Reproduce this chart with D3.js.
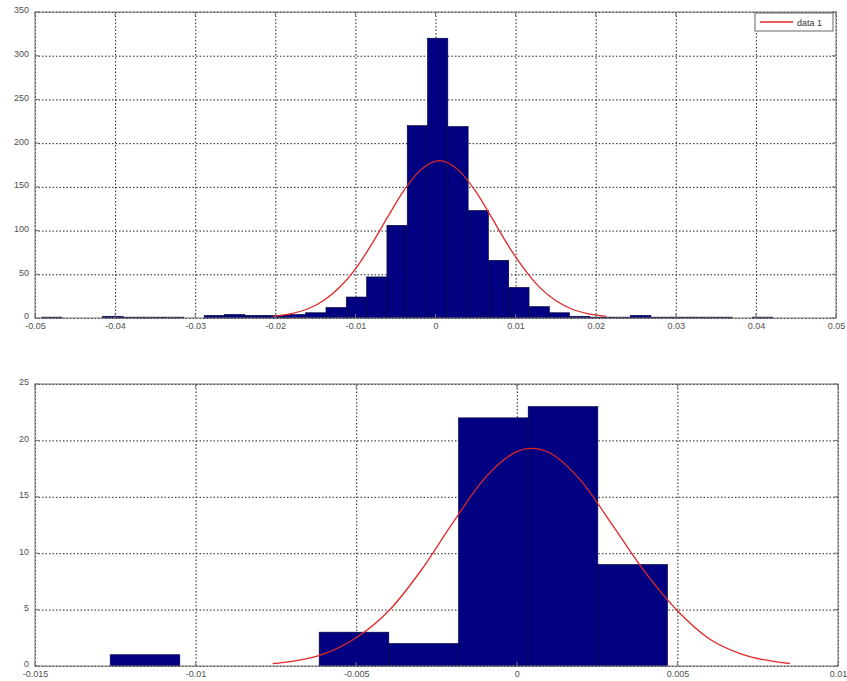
<!DOCTYPE html>
<html>
<head>
<meta charset="utf-8">
<script src="https://cdn.jsdelivr.net/npm/d3@7"></script>
<style>
    body { margin: 0; background: #fff; }
    .tick text { font-family: "Liberation Sans", Arial, sans-serif; font-size: 9px; fill: #505050; }
</style>
</head>
<body>
<script>
// ---- top histogram (bin edges + counts)
const topEdges = [-0.04916, -0.046625, -0.04409, -0.041555, -0.03902, -0.036485, -0.03395, -0.031415,
    -0.02888, -0.026345, -0.02381, -0.021275, -0.01874, -0.016205, -0.01367, -0.011135, -0.0086,
    -0.006065, -0.00353, -0.000995, 0.00154, 0.004075, 0.00661, 0.009145, 0.01168, 0.014215,
    0.01675, 0.019285, 0.02182, 0.024355, 0.02689, 0.029425, 0.03196, 0.034495, 0.03703,
    0.039565, 0.0421];
const topCounts = [1, 0, 0, 2, 1, 1, 1, 0, 3, 4, 3, 3, 4, 6, 12, 24, 47, 106, 220, 320, 219,
    123, 66, 35, 13, 6, 2, 1, 1, 3, 1, 1, 1, 1, 0, 1];
const topCurveX = [-0.0203, -0.018, -0.016, -0.014, -0.012, -0.010, -0.008, -0.006, -0.004,
    -0.002, 0.0005, 0.003, 0.005, 0.007, 0.009, 0.011, 0.013, 0.015, 0.017, 0.019, 0.0213];
const topCurveY = [1.9, 5.0, 10.3, 19.8, 34.9, 56, 84, 115, 145, 168, 180, 168, 145, 115,
    84, 57, 35, 20, 10.3, 5.0, 1.9];
const topXTicks = [-0.05, -0.04, -0.03, -0.02, -0.01, 0, 0.01, 0.02, 0.03, 0.04, 0.05];
const topYTicks = [0, 50, 100, 150, 200, 250, 300, 350];

// ---- bottom histogram
const botEdges = [-0.01266, -0.010491, -0.008322, -0.006153, -0.003984, -0.001815, 0.000354,
    0.002523, 0.004692];
const botCounts = [1, 0, 0, 3, 2, 22, 23, 9];
const botCurveX = [-0.0076, -0.007, -0.006, -0.005, -0.004, -0.003, -0.002, -0.001, 0, 0.00047,
    0.001, 0.002, 0.003, 0.004, 0.005, 0.006, 0.007, 0.0085];
const botCurveY = [0.21, 0.41, 1.07, 2.5, 4.85, 8.4, 12.66, 16.63, 19.0, 19.3, 18.93, 16.41,
    12.4, 8.3, 4.9, 2.4, 1.05, 0.22];
const botXTicks = [-0.015, -0.01, -0.005, 0, 0.005, 0.01];
const botYTicks = [0, 5, 10, 15, 20, 25];

const legendLabel = "data 1";

const svg = d3.select("body").append("svg")
    .attr("width", 847)
    .attr("height", 681);

function fmt(d) {
    return String(+d.toFixed(4));
}

function drawPanel({ box, xDomain, yDomain, xTicks, yTicks, edges, counts, curveX, curveY, legend }) {
    const x = d3.scaleLinear().domain(xDomain).range([box.left, box.right]);
    const y = d3.scaleLinear().domain(yDomain).range([box.bottom, box.top]);
    const w = box.right - box.left, h = box.bottom - box.top;
    const g = svg.append("g");

    // grid
    g.append("g")
        .attr("transform", "translate(0," + box.bottom + ")")
        .call(d3.axisBottom(x).tickValues(xTicks).tickSize(-h).tickFormat(""))
        .call(s => s.select(".domain").remove())
        .call(s => s.selectAll("line").attr("stroke", "#222").attr("stroke-dasharray", "1.5,2"));
    g.append("g")
        .attr("transform", "translate(" + box.left + ",0)")
        .call(d3.axisLeft(y).tickValues(yTicks).tickSize(-w).tickFormat(""))
        .call(s => s.select(".domain").remove())
        .call(s => s.selectAll("line").attr("stroke", "#222").attr("stroke-dasharray", "1.5,2"));

    // bars
    const bins = counts.map((c, i) => ({ x0: edges[i], x1: edges[i + 1], n: c }));
    g.selectAll(".bar")
        .data(bins)
        .enter().append("rect")
        .attr("class", "bar")
        .attr("x", d => x(d.x0))
        .attr("y", d => y(d.n))
        .attr("width", d => x(d.x1) - x(d.x0))
        .attr("height", d => y(0) - y(d.n))
        .style("fill", "#000080")
        .style("stroke", "#000033")
        .style("stroke-width", "0.6px");

    // fitted curve
    const pts = curveX.map((v, i) => [v, curveY[i]]);
    g.append("path")
        .datum(pts)
        .attr("d", d3.line().x(d => x(d[0])).y(d => y(d[1])).curve(d3.curveMonotoneX))
        .style("fill", "none")
        .style("stroke", "#e02828")
        .style("stroke-width", "1.3px");

    // axis labels
    g.append("g")
        .attr("transform", "translate(0," + box.bottom + ")")
        .call(d3.axisBottom(x).tickValues(xTicks).tickSize(0).tickPadding(5).tickFormat(fmt))
        .call(s => s.select(".domain").remove());
    g.append("g")
        .attr("transform", "translate(" + box.left + ",0)")
        .call(d3.axisLeft(y).tickValues(yTicks).tickSize(0).tickPadding(6).tickFormat(fmt))
        .call(s => s.select(".domain").remove())
        .call(s => s.selectAll("text").attr("dy", "0.1em"));

    // inward tick marks on the four sides
    const tk = 4;
    const ticks = g.append("g").style("stroke", "#777").style("stroke-width", "1px");
    xTicks.forEach(v => {
        ticks.append("line").attr("x1", x(v)).attr("x2", x(v)).attr("y1", box.bottom).attr("y2", box.bottom - tk);
        ticks.append("line").attr("x1", x(v)).attr("x2", x(v)).attr("y1", box.top).attr("y2", box.top + tk);
    });
    yTicks.forEach(v => {
        ticks.append("line").attr("x1", box.left).attr("x2", box.left + tk).attr("y1", y(v)).attr("y2", y(v));
        ticks.append("line").attr("x1", box.right).attr("x2", box.right - tk).attr("y1", y(v)).attr("y2", y(v));
    });

    // frame
    g.append("rect")
        .attr("x", box.left).attr("y", box.top)
        .attr("width", w).attr("height", h)
        .style("fill", "none")
        .style("stroke", "#777")
        .style("stroke-width", "1px");

    if (legend) {
        const lg = g.append("g").attr("transform", "translate(" + (box.right - 81) + "," + (box.top + 1) + ")");
        lg.append("rect")
            .attr("width", 78).attr("height", 18)
            .style("fill", "#fff").style("stroke", "#666").style("stroke-width", "1px");
        lg.append("line")
            .attr("x1", 5).attr("x2", 38).attr("y1", 9).attr("y2", 9)
            .style("stroke", "#e02828").style("stroke-width", "1.5px");
        lg.append("text")
            .attr("x", 42).attr("y", 12.5)
            .style("font-family", "Liberation Sans, Arial, sans-serif")
            .style("font-size", "9px")
            .style("fill", "#333")
            .text(legend);
    }
}

drawPanel({
    box: { left: 35, right: 836, top: 12, bottom: 318 },
    xDomain: [-0.05, 0.05], yDomain: [0, 350],
    xTicks: topXTicks, yTicks: topYTicks,
    edges: topEdges, counts: topCounts,
    curveX: topCurveX, curveY: topCurveY,
    legend: legendLabel
});

drawPanel({
    box: { left: 35, right: 838, top: 384, bottom: 666 },
    xDomain: [-0.015, 0.01], yDomain: [0, 25],
    xTicks: botXTicks, yTicks: botYTicks,
    edges: botEdges, counts: botCounts,
    curveX: botCurveX, curveY: botCurveY
});
</script>
</body>
</html>
